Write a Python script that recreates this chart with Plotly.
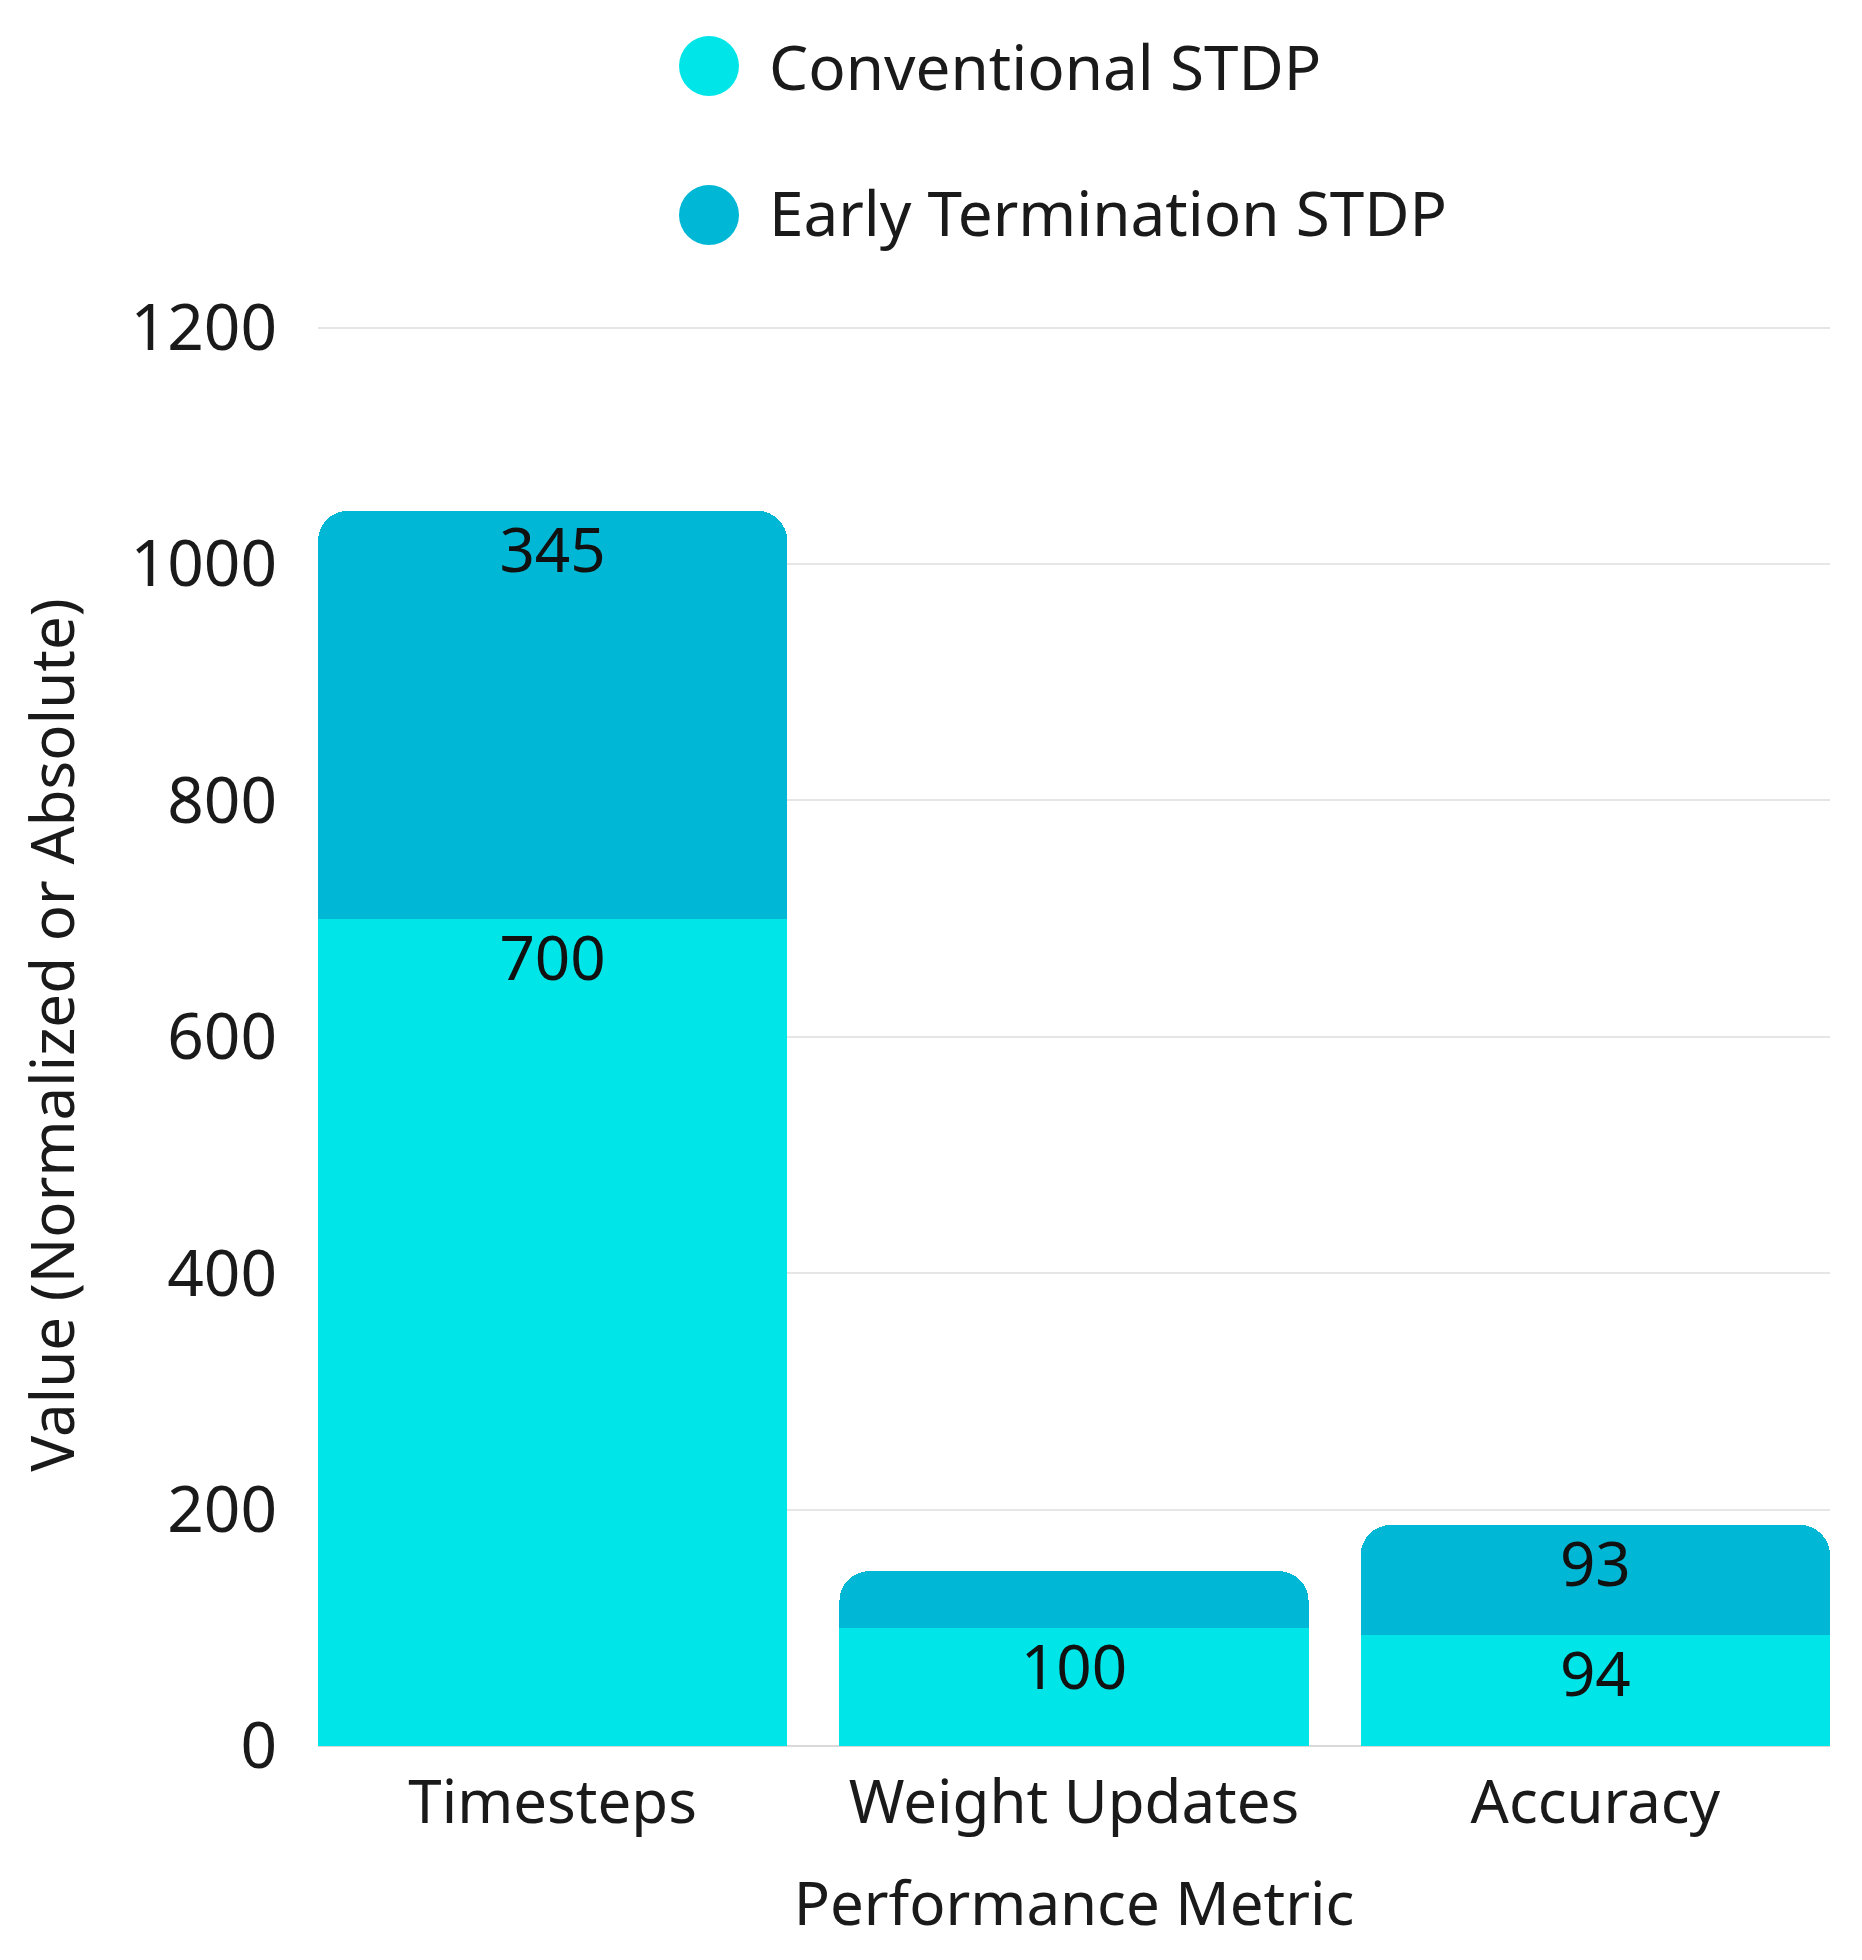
import plotly.graph_objects as go

categories = ["Timesteps", "Weight Updates", "Accuracy"]
conventional = [700, 100, 94]
early_term = [345, 48, 93]
early_term_labels = ["345", "", "93"]
conventional_labels = ["700", "100", "94"]
y_ticks = [0, 200, 400, 600, 800, 1000, 1200]

C_CONV = "#00E5E8"
C_ET = "#00B8D6"
FONT = "Noto Sans"
TXT = "#1a1a1a"

totals = [c + e for c, e in zip(conventional, early_term)]

fig = go.Figure()
fig.add_trace(go.Bar(
    x=categories, y=conventional, name="Conventional STDP",
    marker=dict(color=C_CONV, line=dict(width=0)),
    showlegend=False,
))
fig.add_trace(go.Bar(
    x=categories, y=early_term, name="Early Termination STDP",
    marker=dict(color=C_ET, line=dict(width=0)),
    showlegend=False,
))
# value labels placed just under the top of each segment
for ys, labels in ((conventional, conventional_labels), (totals, early_term_labels)):
    fig.add_trace(go.Scatter(
        x=categories, y=ys, mode="markers+text", text=labels,
        textposition="bottom center",
        marker=dict(size=22, color="rgba(0,0,0,0)"),
        textfont=dict(color="#111111", size=62, family=FONT),
        showlegend=False, hoverinfo="skip",
    ))

# manual legend with large circular markers
legend_items = [("Conventional STDP", C_CONV, 1.1814, 1.1814),
                ("Early Termination STDP", C_ET, 1.0767, 1.0788)]
for label, col, yc, yt in legend_items:
    fig.add_shape(type="circle", xref="paper", yref="paper",
                  xsizemode="pixel", ysizemode="pixel",
                  xanchor=0.2586, yanchor=yc,
                  x0=-30, x1=30, y0=-30, y1=30,
                  fillcolor=col, line=dict(width=0))
    fig.add_annotation(text=label, xref="paper", yref="paper", x=0.297, y=yt,
                       xanchor="left", yanchor="middle", showarrow=False,
                       font=dict(size=62, color=TXT, family=FONT))

fig.update_layout(
    barmode="stack",
    bargap=0.1,
    barcornerradius=30,
    width=1862, height=1960,
    margin=dict(l=310, r=40, t=316, b=222),
    plot_bgcolor="white", paper_bgcolor="white",
    font=dict(family=FONT, color=TXT, size=60),
    xaxis=dict(
        range=[-0.45, 2.45],
        title=dict(text="Performance Metric", font=dict(size=60), standoff=42),
        tickfont=dict(size=60), showgrid=False, zeroline=False,
        ticklabelstandoff=16,
    ),
    yaxis=dict(
        range=[0, 1203], tickvals=y_ticks,
        title=dict(text="Value (Normalized or Absolute)", font=dict(size=60), standoff=36),
        tickfont=dict(size=64), showgrid=True, gridcolor="#e6e6e6", gridwidth=2,
        zeroline=True, zerolinecolor="#d9d9d9", zerolinewidth=2,
        ticklabelstandoff=40,
    ),
)

fig.write_html("out.html")
